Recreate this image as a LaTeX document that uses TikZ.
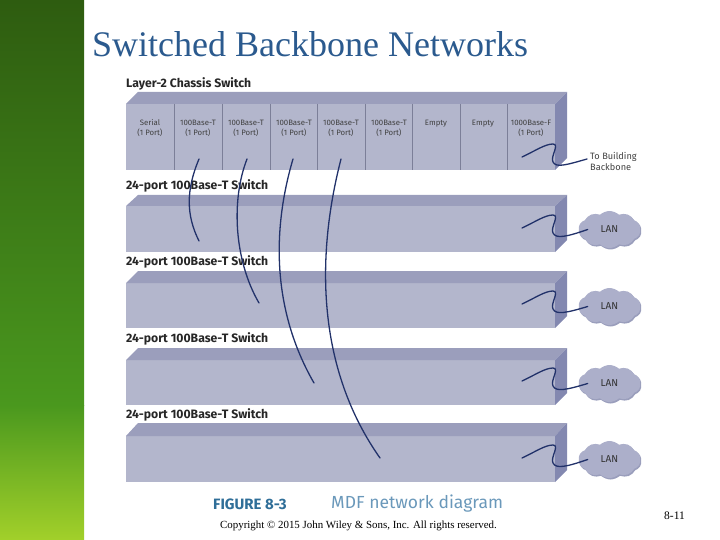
\documentclass[tikz,border=0pt]{standalone}
\usepackage{fontspec}
\setmainfont{Liberation Serif}
\newfontfamily\figfont{Fira Sans}
\usepackage{xcolor}
\usetikzlibrary{shapes.symbols, shadows, positioning, calc}
\definecolor{barTop}{HTML}{2E5C10}
\definecolor{barMid}{HTML}{4A981E}
\definecolor{barBot}{HTML}{A2D02A}
\definecolor{titleBlue}{HTML}{2B5A8E}
\definecolor{boxFront}{HTML}{B3B6CC}
\definecolor{boxTop}{HTML}{9B9EBC}
\definecolor{boxSide}{HTML}{8388B0}
\definecolor{slotLine}{HTML}{7C7F98}
\definecolor{cableBlue}{HTML}{22326A}
\definecolor{cloudFill}{HTML}{ACAFCA}
\definecolor{cloudEdge}{HTML}{9A9EBC}
\definecolor{figBlue}{HTML}{2F6E98}
\definecolor{figLight}{HTML}{6A98BA}
\begin{document}
\begin{tikzpicture}[x=1pt, y=-1pt,
    swlabel/.style={anchor=west, inner sep=0pt, font=\figfont\bfseries\fontsize{12.2}{14}\selectfont, text=black!85},
    portlabel/.style={align=center, inner sep=0pt, text=black!75, font=\figfont\fontsize{7.8}{10}\selectfont},
    cable/.style={draw=cableBlue, line width=1.3pt, line cap=round},
    lancloud/.style={cloud, cloud puffs=10, cloud puff arc=85, aspect=1.7, inner sep=0pt, minimum width=62pt, minimum height=37pt,
        fill=cloudFill, text=black!80, font=\figfont\fontsize{10}{12}\selectfont,
        drop shadow={shadow xshift=1pt, shadow yshift=-1.5pt, opacity=1, fill=cloudEdge}}]
        \useasboundingbox (0,0) rectangle (720,540);

        % Green side bar
        \shade[top color=barTop, bottom color=barMid] (0,0) rectangle (84,405);
        \shade[top color=barMid, bottom color=barBot] (0,405) rectangle (84,540);

        % Title
        \node[anchor=west, inner sep=0pt, text=titleBlue, font=\fontsize{36}{40}\selectfont] (title) at (92,44) {Switched Backbone Networks};

        % Chassis switch
        \fill[boxFront] (126,104) rectangle (555,170);
        \fill[boxTop] (126,104) -- (138,92) -- (567,92) -- (555,104) -- cycle;
        \fill[boxSide] (555,104) -- (567,92) -- (567,158) -- (555,170) -- cycle;
        \foreach \x in {174,222,270,317,365,412,460,507}
            \draw[slotLine, line width=1pt] (\x,104) -- (\x,170);

        % Slot labels
        \node[portlabel] (slot1) at (150,128.5) {Serial\\(1 Port)};
        \node[portlabel] (slot2) at (198,128.5) {100Base-T\\(1 Port)};
        \node[portlabel] (slot3) at (246,128.5) {100Base-T\\(1 Port)};
        \node[portlabel] (slot4) at (294,128.5) {100Base-T\\(1 Port)};
        \node[portlabel] (slot5) at (341,128.5) {100Base-T\\(1 Port)};
        \node[portlabel] (slot6) at (389,128.5) {100Base-T\\(1 Port)};
        \node[portlabel] (slot7) at (436,123.5) {Empty};
        \node[portlabel] (slot8) at (483,123.5) {Empty};
        \node[portlabel] (slot9) at (531,128.5) {1000Base-F\\(1 Port)};

        \node[swlabel] (chassis) at (126,84) {Layer-2 Chassis Switch};
        \node[anchor=west, align=left, inner sep=0pt, text=black!75, font=\figfont\fontsize{9.2}{11}\selectfont] (uplink) at (590,161) {To Building\\Backbone};

        % 24-port switches
        \foreach \i/\ya/\yb/\yc/\yl in {1/195/206/252/186, 2/271/283/328/262, 3/348/360/405/339, 4/423/436/482/415} {
            \fill[boxFront] (126,\yb) rectangle (555,\yc);
            \fill[boxTop] (126,\yb) -- (138,\ya) -- (567,\ya) -- (555,\yb) -- cycle;
            \fill[boxSide] (555,\yb) -- (567,\ya) -- (567,\yc-12) -- (555,\yc) -- cycle;
            \node[swlabel] (sw\i) at (126,\yl) {24-port 100Base-T Switch};
            \node[lancloud] (lan\i) at (609.5,\yb+23.5) {LAN};
        }

        % Cables between chassis and switches
        \coordinate (P1) at (199,159);
        \coordinate (P2) at (247,159);
        \coordinate (P3) at (293,159);
        \coordinate (P4) at (341,159);
        \coordinate (S1) at (199,241);
        \coordinate (S2) at (259,303);
        \coordinate (S3) at (314,383);
        \coordinate (S4) at (380,458);
        \draw[cable] (P1) .. controls (186,190) and (186,215) .. (S1);
        \draw[cable] (P2) .. controls (231,200) and (234,260) .. (S2);
        \draw[cable] (P3) .. controls (272,230) and (272,310) .. (S3);
        \draw[cable] (P4) .. controls (315,260) and (318,370) .. (S4);

        % Cables out of the back
        \coordinate (U0) at (522,157);
        \coordinate (B0) at (587,159);
        \draw[cable] (U0) .. controls (535,151) and (545,144) .. (553,144) .. controls (560,144) and (550,157) .. (553,162) .. controls (556,168) and (566,165) .. (B0);
        \foreach \i/\yo in {1/228, 2/304, 3/381, 4/458} {
            \coordinate (U\i) at (522,\yo);
            \draw[cable] (U\i) .. controls (535,\yo-6) and (545,\yo-13) .. (553,\yo-13) .. controls (560,\yo-13) and (550,\yo) .. (553,\yo+5) .. controls (556,\yo+11) and (566,\yo+9) .. ([xshift=9pt]lan\i.west);
        }

        % Figure caption
        \node[anchor=west, inner sep=0pt, text=figBlue, font=\figfont\bfseries\fontsize{15}{18}\selectfont] (fignum) at (213,504) {FIGURE 8-3};
        \node[anchor=west, inner sep=0pt, text=figLight, font=\figfont\fontsize{17.5}{20}\selectfont] (figname) at (331,504) {MDF network diagram};

        % Footer
        \node[anchor=west, inner sep=0pt, font=\fontsize{10.9}{12}\selectfont] (copyright) at (220,526) {Copyright © 2015 John Wiley \& Sons, Inc. All rights reserved.};
        \node[anchor=west, inner sep=0pt, font=\fontsize{11.5}{12}\selectfont] (pagenum) at (664,516) {8-11};
    \end{tikzpicture}
\end{document}
